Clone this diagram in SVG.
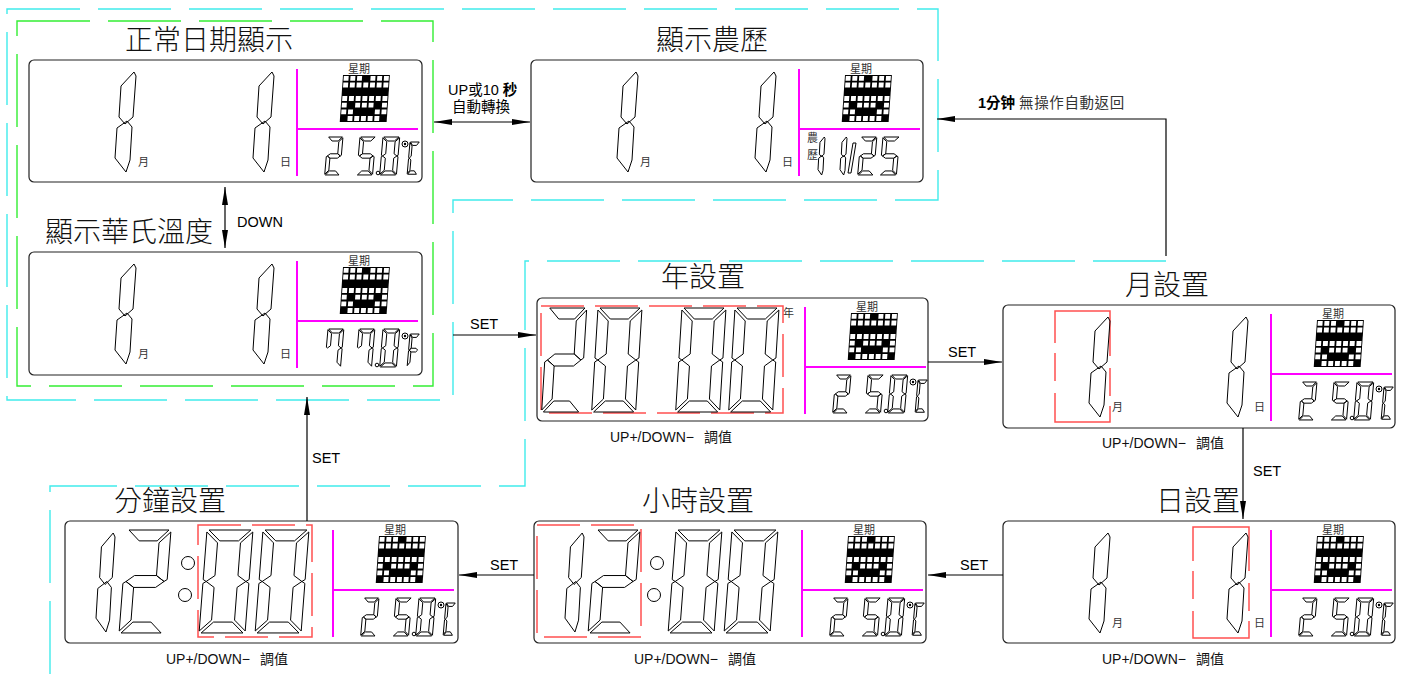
<svg xmlns="http://www.w3.org/2000/svg" width="1422" height="675" viewBox="0 0 1422 675">
<defs>
<style>
.seg{fill:none;stroke:#000;stroke-width:1;vector-effect:non-scaling-stroke;stroke-linejoin:round}
.pnl{fill:#fff;stroke:#222;stroke-width:1.2}
.mg{stroke:#f0f;stroke-width:2;fill:none}
.red{fill:none;stroke:#ff5050;stroke-width:1.5;stroke-dasharray:43 11}
.grn{fill:none;stroke:#3e3;stroke-width:1.4;stroke-dasharray:73 18}
.cyn{fill:none;stroke:#40ecec;stroke-width:1.4;stroke-dasharray:73 18}
.conn{fill:none;stroke:#000;stroke-width:1.2}
.ttl{font-family:"Noto Sans CJK TC","Noto Sans CJK SC",sans-serif;font-size:28px;fill:#111;font-weight:300}
.sm{font-family:"Noto Sans CJK TC","Noto Sans CJK SC",sans-serif;font-size:11px;fill:#333}
.lbl{font-family:"Liberation Sans","Noto Sans CJK TC",sans-serif;font-size:14.5px;fill:#000}
.ud{font-family:"Liberation Sans","Noto Sans CJK TC",sans-serif;font-size:14px;fill:#111}
</style>
<marker id="ah" viewBox="0 0 18 6" refX="18" refY="3" markerWidth="18" markerHeight="6" orient="auto-start-reverse" markerUnits="userSpaceOnUse"><path d="M0,0L18,3L0,6z" fill="#000"/></marker>
<polygon id="sa" class="seg" points="2,0 42,0 31,11 13,11"/>
<polygon id="sb" class="seg" points="44,2 44,50 41,52 33,46 33,13"/>
<polygon id="sc" class="seg" points="44,54 44,102 33,91 33,58 41,52"/>
<polygon id="sd" class="seg" points="2,104 42,104 31,93 13,93"/>
<polygon id="se" class="seg" points="0,54 3,52 11,58 11,91 0,102"/>
<polygon id="sf" class="seg" points="0,2 11,13 11,46 3,52 0,50"/>
<polygon id="sg" class="seg" points="3,52 11,46 33,46 41,52 33,58 11,58"/>
<g id="d0"><use href="#sa"/><use href="#sb"/><use href="#sc"/><use href="#sd"/><use href="#se"/><use href="#sf"/></g>
<g id="d2"><use href="#sa"/><use href="#sb"/><use href="#sg"/><use href="#se"/><use href="#sd"/></g>
<g id="d5"><use href="#sa"/><use href="#sf"/><use href="#sg"/><use href="#sc"/><use href="#sd"/></g>
<g id="d7"><use href="#sa"/><use href="#sf"/><use href="#sb"/><use href="#sc"/></g>
<g id="dC"><use href="#sa"/><use href="#sf"/><use href="#se"/><use href="#sd"/></g>
<g id="dF"><use href="#sa"/><use href="#sf"/><use href="#sg"/><use href="#se"/></g>
<g id="one"><polygon class="seg" points="19,0 21,4 18,45 10,52 4,45 6,14"/><polygon class="seg" points="12,49 17,55 15,88 11,100 0,86 2,56"/></g>
<g id="wk" transform="skewX(-4)"><rect width="46.9" height="46.9" fill="#000"/><path fill="#fff" d="M0.9,0.9h4.9v4.9h-4.9zM7.6,0.9h4.9v4.9h-4.9zM14.3,0.9h4.9v4.9h-4.9zM27.7,0.9h4.9v4.9h-4.9zM34.4,0.9h4.9v4.9h-4.9zM41.1,0.9h4.9v4.9h-4.9zM0.9,7.6h4.9v4.9h-4.9zM7.6,7.6h4.9v4.9h-4.9zM14.3,7.6h4.9v4.9h-4.9zM21,7.6h4.9v4.9h-4.9zM27.7,7.6h4.9v4.9h-4.9zM34.4,7.6h4.9v4.9h-4.9zM41.1,7.6h4.9v4.9h-4.9zM0.9,21h4.9v4.9h-4.9zM7.6,21h4.9v4.9h-4.9zM14.3,21h4.9v4.9h-4.9zM21,21h4.9v4.9h-4.9zM27.7,21h4.9v4.9h-4.9zM34.4,21h4.9v4.9h-4.9zM41.1,21h4.9v4.9h-4.9zM0.9,27.7h4.9v4.9h-4.9zM14.3,27.7h4.9v4.9h-4.9zM21,27.7h4.9v4.9h-4.9zM27.7,27.7h4.9v4.9h-4.9zM41.1,27.7h4.9v4.9h-4.9zM0.9,34.4h4.9v4.9h-4.9zM7.6,34.4h4.9v4.9h-4.9zM34.4,34.4h4.9v4.9h-4.9zM41.1,34.4h4.9v4.9h-4.9zM7.6,41.1h4.9v4.9h-4.9zM14.3,41.1h4.9v4.9h-4.9zM21,41.1h4.9v4.9h-4.9zM27.7,41.1h4.9v4.9h-4.9zM34.4,41.1h4.9v4.9h-4.9z"/></g>
<g id="rs">
<path class="mg" d="M268,9V116M268,69H389"/>
<text class="sm" x="330" y="12.5" text-anchor="middle" font-size="13.5">星期</text>
<use href="#wk" transform="translate(314,15)"/>
</g>
<g id="t25">
<use href="#d2" transform="translate(299,77) skewX(-5) scale(0.34,0.365)"/>
<use href="#d5" transform="translate(331,77) skewX(-5) scale(0.36,0.365)"/>
<circle class="seg" cx="349" cy="113" r="1.8"/>
<use href="#d0" transform="translate(354,77) skewX(-5) scale(0.38,0.365)"/>
<circle class="seg" cx="376" cy="84" r="3"/><circle cx="376" cy="84" r="1.2" fill="#000"/>
<use href="#dC" transform="translate(381,82) skewX(-5) scale(0.22,0.31)"/>
</g>
<g id="t77">
<use href="#d7" transform="translate(299,77) skewX(-5) scale(0.36,0.365)"/>
<use href="#d7" transform="translate(330,77) skewX(-5) scale(0.36,0.365)"/>
<circle class="seg" cx="348" cy="113" r="1.8"/>
<use href="#d0" transform="translate(354,77) skewX(-5) scale(0.38,0.365)"/>
<circle class="seg" cx="376" cy="84" r="3"/><circle cx="376" cy="84" r="1.2" fill="#000"/>
<use href="#dF" transform="translate(381,82) skewX(-5) scale(0.22,0.31)"/>
</g>
<g id="date">
<use href="#one" transform="translate(86,12)"/>
<text class="sm" x="109" y="106">月</text>
<use href="#one" transform="translate(224,12)"/>
<text class="sm" x="251" y="106">日</text>
</g>
<g id="clock">
<use href="#one" transform="translate(31,12) scale(0.905,0.99)"/>
<use href="#d2" transform="translate(62,9) skewX(-4.4) scale(1,0.99)"/>
<circle class="seg" cx="123" cy="42" r="6.5"/>
<circle class="seg" cx="120" cy="74" r="6.5"/>
<use href="#d0" transform="translate(142,9) skewX(-4.4) scale(1.045,0.99)"/>
<use href="#d0" transform="translate(198,9) skewX(-4.4) scale(1.045,0.99)"/>
</g>
</defs>
<rect width="1422" height="675" fill="#fff"/>
<g id="frames">
<rect class="grn" x="17" y="21" width="416" height="365"/>
<path class="cyn" d="M7,9H938V200H453V400H7Z"/>
<path class="cyn" d="M1166,261H525V486H50V675"/>
</g>
<g id="n1">
<text class="ttl" x="209" y="50" text-anchor="middle">正常日期顯示</text>
<g transform="translate(29,60)"><rect class="pnl" width="393" height="122" rx="5"/><use href="#date"/><use href="#rs"/><use href="#t25"/></g>
</g>
<g id="n2">
<text class="ttl" x="45" y="242">顯示華氏溫度</text>
<g transform="translate(29,252)"><rect class="pnl" width="393" height="123" rx="5"/><use href="#date"/><use href="#rs"/><use href="#t77"/></g>
</g>
<g id="n3">
<text class="ttl" x="712" y="50" text-anchor="middle">顯示農歷</text>
<g transform="translate(531,60)"><rect class="pnl" width="392" height="122" rx="5"/><use href="#date"/><use href="#rs"/>
<text class="sm" x="276" y="82" font-size="7.5">農</text>
<text class="sm" x="276" y="99" font-size="7.5">歷</text>
<use href="#one" transform="translate(287,77) scale(0.333,0.38)"/>
<use href="#one" transform="translate(309,77) scale(0.333,0.38)"/>
<polygon class="seg" points="322,83 325,83 320,113 317,113"/>
<use href="#d2" transform="translate(330,77) skewX(-5) scale(0.36,0.365)"/>
<use href="#d5" transform="translate(352,77) skewX(-5) scale(0.38,0.365)"/>
</g>
</g>
<g id="n4">
<text class="ttl" x="703" y="287" text-anchor="middle">年設置</text>
<g transform="translate(537,298)"><rect class="pnl" width="391" height="123" rx="5"/>
<rect class="red" x="4" y="8" width="242" height="107"/>
<use href="#d2" transform="translate(11,10) skewX(-3.5) scale(0.88,1)"/>
<use href="#d0" transform="translate(61,10) skewX(-3.5)"/>
<use href="#d0" transform="translate(145,10) skewX(-3.5)"/>
<use href="#d0" transform="translate(198,10) skewX(-3.5)"/>
<text class="sm" x="246" y="19" font-size="12">年</text>
<use href="#rs"/><use href="#t25"/></g>
<text class="ud" x="610" y="442">UP+/DOWN−<tspan dx="10">調值</tspan></text>
</g>
<g id="n5">
<text class="ttl" x="1167" y="295" text-anchor="middle">月設置</text>
<g transform="translate(1003,305)"><rect class="pnl" width="392" height="123" rx="5"/>
<rect class="red" x="52" y="6" width="55" height="111" style="stroke-dasharray:100 12 28 10"/>
<use href="#date"/><use href="#rs"/><use href="#t25"/></g>
<text class="ud" x="1102" y="448">UP+/DOWN−<tspan dx="10">調值</tspan></text>
</g>
<g id="n6">
<text class="ttl" x="1198" y="511" text-anchor="middle">日設置</text>
<g transform="translate(1003,521)"><rect class="pnl" width="392" height="122" rx="5"/>
<rect class="red" x="190" y="6" width="56" height="111" style="stroke-dasharray:100 12 28 10"/>
<use href="#date"/><use href="#rs"/><use href="#t25"/></g>
<text class="ud" x="1102" y="664">UP+/DOWN−<tspan dx="10">調值</tspan></text>
</g>
<g id="n7">
<text class="ttl" x="698" y="511" text-anchor="middle">小時設置</text>
<g transform="translate(534,521)"><rect class="pnl" width="392" height="122" rx="5"/>
<rect class="red" x="3" y="4" width="104" height="112"/>
<use href="#clock"/><use href="#rs"/><use href="#t25"/></g>
<text class="ud" x="634" y="664">UP+/DOWN−<tspan dx="10">調值</tspan></text>
</g>
<g id="n8">
<text class="ttl" x="170" y="511" text-anchor="middle">分鐘設置</text>
<g transform="translate(65,521)"><rect class="pnl" width="393" height="122" rx="5"/>
<rect class="red" x="133" y="4" width="114" height="112"/>
<use href="#clock"/><use href="#rs"/><use href="#t25"/></g>
<text class="ud" x="166" y="664">UP+/DOWN−<tspan dx="10">調值</tspan></text>
</g>
<g id="connectors">
<path class="conn" d="M434,122H530" marker-start="url(#ah)" marker-end="url(#ah)"/>
<text class="lbl" x="448" y="95" font-size="12">UP或10 <tspan font-weight="bold">秒</tspan></text>
<text class="lbl" x="452" y="112" font-size="12" fill="#333">自動轉換</text>
<path class="conn" d="M225,187V248" marker-start="url(#ah)" marker-end="url(#ah)"/>
<text class="lbl" x="237" y="227">DOWN</text>
<path class="conn" d="M1166,256V119H937" marker-end="url(#ah)"/>
<text class="lbl" x="978" y="108" font-size="14"><tspan font-weight="bold">1分钟</tspan><tspan fill="#333" dx="4" letter-spacing="0.6">無操作自動返回</tspan></text>
<path class="conn" d="M453,335H536" marker-end="url(#ah)"/>
<text class="lbl" x="470" y="329">SET</text>
<path class="conn" d="M928,362H1002" marker-end="url(#ah)"/>
<text class="lbl" x="948" y="357">SET</text>
<path class="conn" d="M1243,428V519" marker-end="url(#ah)"/>
<text class="lbl" x="1253" y="476">SET</text>
<path class="conn" d="M1003,575H928" marker-end="url(#ah)"/>
<text class="lbl" x="960" y="570">SET</text>
<path class="conn" d="M534,575H459" marker-end="url(#ah)"/>
<text class="lbl" x="490" y="570">SET</text>
<path class="conn" d="M307,521V397" marker-end="url(#ah)"/>
<text class="lbl" x="312" y="463">SET</text>
</g>
</svg>
